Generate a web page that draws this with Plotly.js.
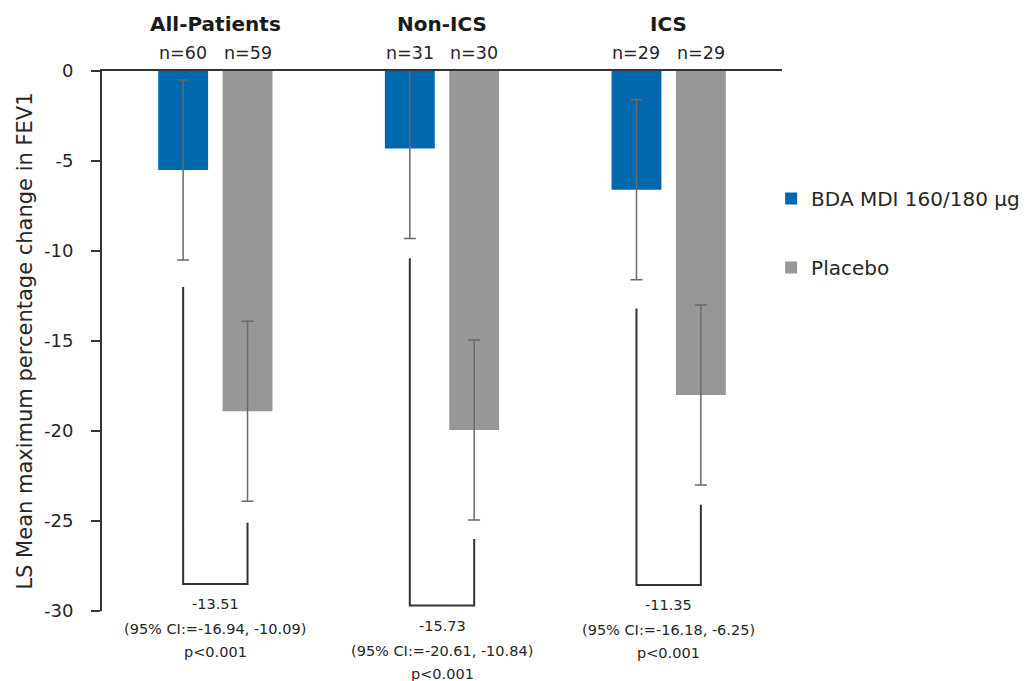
<!DOCTYPE html>
<html>
<head>
<meta charset="utf-8">
<script src="https://cdn.plot.ly/plotly-3.0.1.min.js"></script>
<style>
  html, body { margin: 0; padding: 0; background: #ffffff; }
  #chart { width: 1031px; height: 681px; }
</style>
</head>
<body>
<div id="chart"></div>
<script>
// Subgroups and series
const groups = ['All-Patients', 'Non-ICS', 'ICS'];
const seriesNames = ['BDA MDI 160/180 µg', 'Placebo'];

// LS mean maximum percentage change in FEV1 with error bar half-lengths
const bdaMean = [-5.5, -4.3, -6.6];
const bdaErr = [5.0, 5.0, 5.0];
const placeboMean = [-18.9, -19.95, -18.0];
const placeboErr = [5.0, 5.0, 5.0];

// Sample sizes per arm
const bdaN = ['n=60', 'n=31', 'n=29'];
const placeboN = ['n=59', 'n=30', 'n=29'];

// Treatment-difference brackets (y values where each leg starts and where the bracket closes)
const bracketBdaStart = [-12.0, -10.4, -13.2];
const bracketPlaceboStart = [-25.1, -26.0, -24.1];
const bracketBottom = [-28.5, -29.7, -28.55];

// Treatment-difference labels
const diffValue = ['-13.51', '-15.73', '-11.35'];
const diffCI = ['(95% CI:=-16.94, -10.09)', '(95% CI:=-20.61, -10.84)', '(95% CI:=-16.18, -6.25)'];
const diffP = ['p<0.001', 'p<0.001', 'p<0.001'];

// Y axis ticks
const yTicks = [0, -5, -10, -15, -20, -25, -30];

// ---- drawing ----
const FONT = 'DejaVu Sans, sans-serif';
const TEXT = '#262626';
const LINE = '#333333';
const BAR_W = 0.22;     // bar width in group units
const HALF = 0.142;     // distance from group centre to each bar centre

const xs = groups.map((_, i) => i);
const esc = s => s.replace(/&/g, '&amp;').replace(/</g, '&lt;').replace(/>/g, '&gt;');

const bdaTrace = {
  type: 'bar',
  name: seriesNames[0],
  legendgroup: 'bda',
  x: xs,
  y: bdaMean,
  width: BAR_W,
  offset: -HALF - BAR_W / 2,
  marker: { color: '#0068AD' },
  error_y: { type: 'data', array: bdaErr, visible: true, color: '#6a6a6a', thickness: 1.5, width: 6 },
  hoverinfo: 'skip'
};

const placeboTrace = {
  type: 'bar',
  name: seriesNames[1],
  legendgroup: 'placebo',
  x: xs,
  y: placeboMean,
  width: BAR_W,
  offset: HALF - BAR_W / 2,
  marker: { color: '#979797' },
  error_y: { type: 'data', array: placeboErr, visible: true, color: '#6a6a6a', thickness: 1.5, width: 6 },
  hoverinfo: 'skip'
};

// brackets joining the two arms of each subgroup
const bx = [], by = [];
xs.forEach((g, i) => {
  bx.push(g - HALF, g - HALF, g + HALF, g + HALF, null);
  by.push(bracketBdaStart[i], bracketBottom[i], bracketBottom[i], bracketPlaceboStart[i], null);
});
const bracketTrace = {
  type: 'scatter',
  mode: 'lines',
  x: bx,
  y: by,
  line: { color: LINE, width: 2 },
  cliponaxis: false,
  showlegend: false,
  hoverinfo: 'skip'
};

const annotations = [];
xs.forEach((g, i) => {
  // subgroup heading
  annotations.push({
    x: g, xref: 'x', y: 1, yref: 'paper', yanchor: 'middle', yshift: 47,
    text: '<b>' + esc(groups[i]) + '</b>', showarrow: false,
    font: { family: FONT, size: 20, color: '#1a1a1a' }
  });
  // sample sizes
  annotations.push({
    x: g - HALF, xref: 'x', y: 1, yref: 'paper', yanchor: 'middle', yshift: 18,
    text: esc(bdaN[i]), showarrow: false,
    font: { family: FONT, size: 17.5, color: TEXT }
  });
  annotations.push({
    x: g + HALF, xref: 'x', y: 1, yref: 'paper', yanchor: 'middle', yshift: 18,
    text: esc(placeboN[i]), showarrow: false,
    font: { family: FONT, size: 17.5, color: TEXT }
  });
  // difference, confidence interval and p-value under each bracket
  [diffValue[i], diffCI[i], diffP[i]].forEach((t, k) => {
    annotations.push({
      x: g, xref: 'x', y: bracketBottom[i], yref: 'y', yanchor: 'middle',
      yshift: -[20, 45, 68][k],
      text: esc(t), showarrow: false,
      font: { family: FONT, size: 14.5, color: TEXT }
    });
  });
});

const layout = {
  width: 1031,
  height: 681,
  margin: { l: 102, r: 249, t: 71, b: 70, autoexpand: false },
  paper_bgcolor: '#ffffff',
  plot_bgcolor: '#ffffff',
  barmode: 'overlay',
  showlegend: true,
  font: { family: FONT, color: TEXT },
  xaxis: {
    range: [-0.5, 2.5],
    side: 'top',
    showline: true, linecolor: LINE, linewidth: 2,
    showticklabels: false, ticks: '',
    showgrid: false, zeroline: false, fixedrange: true
  },
  yaxis: {
    range: [-30, 0],
    tickvals: yTicks,
    ticktext: yTicks.map(String),
    ticks: 'outside', ticklen: 9, tickwidth: 2, tickcolor: LINE,
    ticklabelstandoff: 14,
    tickfont: { family: FONT, size: 18, color: TEXT },
    showline: true, linecolor: LINE, linewidth: 2,
    showgrid: false, zeroline: false, fixedrange: true,
    title: {
      text: 'LS Mean maximum percentage change in FEV1',
      font: { family: FONT, size: 21, color: TEXT },
      standoff: 6
    }
  },
  legend: {
    x: 0.984, xanchor: 'left',
    y: 0.80, yanchor: 'top',
    orientation: 'v',
    traceorder: 'grouped',
    tracegroupgap: 40,
    bgcolor: 'rgba(0,0,0,0)',
    font: { family: FONT, size: 20, color: TEXT }
  },
  annotations: annotations
};

Plotly.newPlot('chart', [bdaTrace, placeboTrace, bracketTrace], layout, { displayModeBar: false, staticPlot: true });
</script>
</body>
</html>
